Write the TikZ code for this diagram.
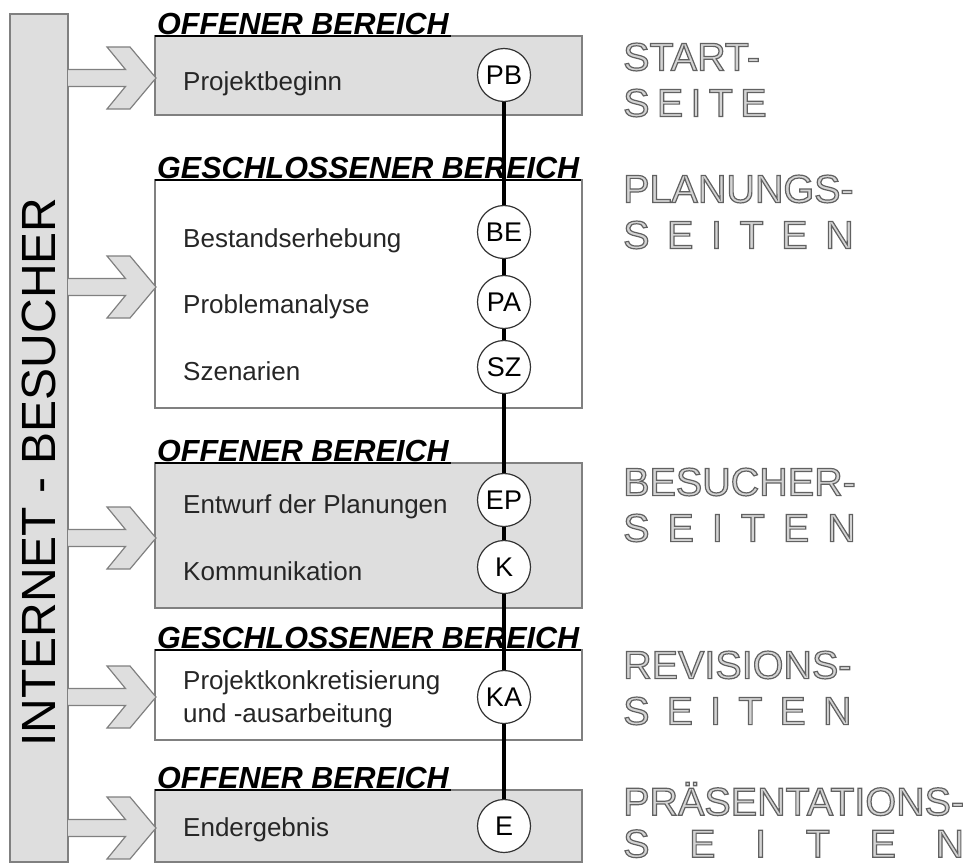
\documentclass[tikz,border=0pt]{standalone}
\usepackage{fontspec}
\setmainfont{Liberation Sans}
\usepackage{calc}
\usepackage{tikz}

\definecolor{boxfill}{HTML}{DEDEDE}
\definecolor{boxline}{HTML}{808080}
\definecolor{pagefill}{HTML}{D4D4D4}

% outlined letters: fill with the text colour, stroke in mid grey
\newcommand{\hollow}[1]{\special{pdf:literal direct 0.38 G 1.2 w 2 Tr}#1\special{pdf:literal direct 0 Tr}}
\newcommand{\spreadword}[2]{\makebox[\widthof{#1}][s]{#2}}

\begin{document}
\begin{tikzpicture}[x=1pt,y=-1pt,
  openbox/.style={draw=boxline,line width=1.8pt,fill=boxfill},
  closedbox/.style={draw=boxline,line width=1.8pt,fill=white},
  pointer/.style={draw=boxline,line width=1.2pt,fill=boxfill,line join=miter},
  area/.style={anchor=south west,inner xsep=2pt,inner ysep=1.5pt,font=\fontsize{30.5}{32}\selectfont\bfseries\itshape},
  rule/.style={line width=1.4pt},
  item/.style={anchor=base west,inner sep=0pt,text=black!85,font=\fontsize{26}{30}\selectfont},
  phase/.style={circle,draw=black!80,line width=1.2pt,fill=white,minimum size=53pt,inner sep=0pt,text depth=0pt,font=\fontsize{27}{27}\selectfont},
  link/.style={line width=3.5pt},
  pagelabel/.style={anchor=west,inner sep=0pt,align=left,text=pagefill,font=\fontsize{39.5}{46}\selectfont}]
\useasboundingbox (0,0) rectangle (977,867);

\draw[openbox] (10,14) rectangle (68,862);
\node[rotate=90,font=\fontsize{48}{48}\selectfont] (visitors) at (39,472) {INTERNET - BESUCHER};

\draw[openbox] (155,36) rectangle (582,115);
\draw[closedbox] (155,180) rectangle (582,408);
\draw[openbox] (155,463) rectangle (582,608);
\draw[closedbox] (155,650) rectangle (582,740);
\draw[openbox] (155,790) rectangle (582,862);

\foreach \y in {78,287,538,697,828}
  \draw[pointer] (68,\y-8.5) -- (125.5,\y-8.5) -- (107,\y-31) -- (130,\y-31) -- (156,\y)
    -- (130,\y+31) -- (107,\y+31) -- (125.5,\y+8.5) -- (68,\y+8.5);

\foreach \t/\h [count=\i] in {36/OFFENER BEREICH,180/GESCHLOSSENER BEREICH,463/OFFENER BEREICH,650/GESCHLOSSENER BEREICH,790/OFFENER BEREICH}
{
  \node[area] (area\i) at (155,\t) {\h};
  \draw[rule] (area\i.south west) -- (area\i.south east);
}

\node[item] (pbtext) at (183,90) {Projektbeginn};
\node[item] (betext) at (183,247) {Bestandserhebung};
\node[item] (patext) at (183,313) {Problemanalyse};
\node[item] (sztext) at (183,380) {Szenarien};
\node[item] (eptext) at (183,513) {Entwurf der Planungen};
\node[item] (ktext) at (183,580) {Kommunikation};
\node[item] (katext) at (183,689) {Projektkonkretisierung};
\node[item] (katext2) at (183,722) {und -ausarbeitung};
\node[item] (etext) at (183,836) {Endergebnis};

\node[phase] (pb) at (504,75) {PB};
\node[phase] (be) at (504,232) {BE};
\node[phase] (pa) at (504,302) {PA};
\node[phase] (sz) at (504,367) {SZ};
\node[phase] (ep) at (504,500) {EP};
\node[phase] (k) at (504,567) {K};
\node[phase] (ka) at (504,697) {KA};
\node[phase] (e) at (504,826) {E};

\foreach \a/\b in {pb/be,be/pa,pa/sz,sz/ep,ep/k,k/ka,ka/e}
  \draw[link] (\a) -- (\b);

\node[pagelabel] (startpg) at (623,80) {\hollow{START-}\\\hollow{\spreadword{START-}{S E I T E}}};
\node[pagelabel] (planpg) at (623,212) {\hollow{PLANUNGS-}\\\hollow{\spreadword{PLANUNGS-}{S E I T E N}}};
\node[pagelabel] (visitpg) at (623,505) {\hollow{BESUCHER-}\\\hollow{\spreadword{BESUCHER-}{S E I T E N}}};
\node[pagelabel] (revpg) at (623,688) {\hollow{REVISIONS-}\\\hollow{\spreadword{REVISIONS-}{S E I T E N}}};
\node[pagelabel,font=\fontsize{39.5}{42}\selectfont] (prespg) at (623,820) {\hollow{PRÄSENTATIONS-}\\\hollow{\spreadword{PRÄSENTATIONS-}{S E I T E N}}};
\end{tikzpicture}
\end{document}
